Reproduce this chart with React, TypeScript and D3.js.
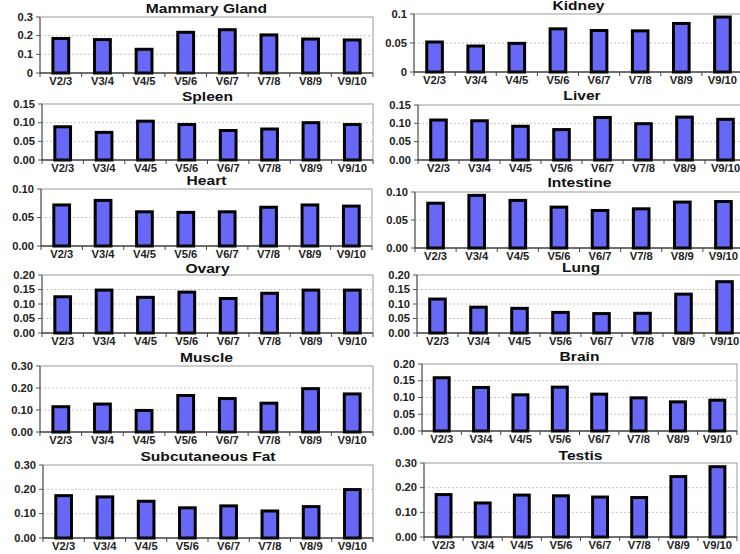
import React from "react";
import * as d3 from "d3";

const categories = ["V2/3", "V3/4", "V4/5", "V5/6", "V6/7", "V7/8", "V8/9", "V9/10"];

const mammaryGland = [0.185, 0.179, 0.127, 0.218, 0.232, 0.204, 0.182, 0.177];
const kidney = [0.0517, 0.0448, 0.0494, 0.0744, 0.0715, 0.0709, 0.0837, 0.0948];
const spleen = [0.089, 0.074, 0.104, 0.095, 0.079, 0.083, 0.1, 0.095];
const liver = [0.109, 0.107, 0.092, 0.083, 0.116, 0.099, 0.117, 0.111];
const heart = [0.072, 0.08, 0.06, 0.059, 0.06, 0.068, 0.072, 0.07];
const intestine = [0.08, 0.094, 0.085, 0.073, 0.067, 0.07, 0.082, 0.083];
const ovary = [0.125, 0.148, 0.123, 0.141, 0.119, 0.137, 0.148, 0.148];
const lung = [0.117, 0.089, 0.085, 0.071, 0.067, 0.068, 0.134, 0.177];
const muscle = [0.115, 0.127, 0.098, 0.166, 0.152, 0.131, 0.197, 0.173];
const brain = [0.159, 0.13, 0.108, 0.131, 0.11, 0.099, 0.087, 0.092];
const subcutaneousFat = [0.174, 0.169, 0.151, 0.124, 0.132, 0.111, 0.129, 0.199];
const testis = [0.172, 0.138, 0.17, 0.167, 0.162, 0.16, 0.245, 0.285];

const titles = [
  "Mammary Gland", "Kidney", "Spleen", "Liver", "Heart", "Intestine",
  "Ovary", "Lung", "Muscle", "Brain", "Subcutaneous Fat", "Testis",
];
const seriesList = [
  mammaryGland, kidney, spleen, liver, heart, intestine,
  ovary, lung, muscle, brain, subcutaneousFat, testis,
];
const tickValues = [
  [0, 0.1, 0.2, 0.3],
  [0, 0.05, 0.1],
  [0, 0.05, 0.1, 0.15],
  [0, 0.05, 0.1, 0.15],
  [0, 0.05, 0.1],
  [0, 0.05, 0.1],
  [0, 0.05, 0.1, 0.15, 0.2],
  [0, 0.05, 0.1, 0.15, 0.2],
  [0, 0.1, 0.2, 0.3],
  [0, 0.05, 0.1, 0.15, 0.2],
  [0, 0.1, 0.2, 0.3],
  [0, 0.1, 0.2, 0.3],
];
const tickLabels = [
  ["0", "0.1", "0.2", "0.3"],
  ["0", "0.05", "0.1"],
  ["0.00", "0.05", "0.10", "0.15"],
  ["0.00", "0.05", "0.10", "0.15"],
  ["0.00", "0.05", "0.10"],
  ["0.00", "0.05", "0.10"],
  ["0.00", "0.05", "0.10", "0.15", "0.20"],
  ["0.00", "0.05", "0.10", "0.15", "0.20"],
  ["0.00", "0.10", "0.20", "0.30"],
  ["0.00", "0.05", "0.10", "0.15", "0.20"],
  ["0.00", "0.10", "0.20", "0.30"],
  ["0.00", "0.10", "0.20", "0.30"],
];

// layout: [left, right, top, bottom, titleBaseline]
const layout = [
  [40, 373, 17, 73, 13],
  [414, 743, 14, 72, 10],
  [42, 373, 104, 160, 101],
  [418, 746, 105, 160, 100],
  [41, 372, 189, 246, 185],
  [415, 744, 192, 248, 187],
  [42, 373, 275, 333, 273],
  [417, 745, 275, 333, 272],
  [40, 373, 366, 432, 362],
  [422, 737, 364, 431, 361],
  [43, 373, 465, 538, 461],
  [424, 737, 463, 537, 460],
];

const FONT = "'Liberation Sans', Arial, sans-serif";
const BAR_FILL = "#6868f8";

function Panel({ idx }: { idx: number }) {
  const [left, right, top, bottom, titleY] = layout[idx];
  const values = seriesList[idx];
  const ticks = tickValues[idx];
  const labels = tickLabels[idx];
  const yMax = ticks[ticks.length - 1];
  const x = d3.scaleBand<string>().domain(categories).range([left, right]).paddingInner(0.62).paddingOuter(0.31);
  const y = d3.scaleLinear().domain([0, yMax]).range([bottom, top]);
  const step = x.step();
  return (
    <g>
      {ticks.slice(1, -1).map((t) => (
        <line key={"g" + t} x1={left} x2={right} y1={y(t)} y2={y(t)} stroke="#b8b8b8" strokeWidth={0.8} strokeDasharray="2,2" />
      ))}
      <rect x={left} y={top} width={right - left} height={bottom - top} fill="none" stroke="#9a9a9a" strokeWidth={1} />
      <line x1={left} x2={left} y1={top} y2={bottom} stroke="#555" strokeWidth={1} />
      {ticks.map((t, i) => (
        <g key={"yt" + t}>
          <line x1={left - 4} x2={left} y1={y(t)} y2={y(t)} stroke="#555" strokeWidth={1} />
          <text
            transform={`translate(${left - 7},${y(t) + 3.5}) scale(1.12,1)`}
            textAnchor="end"
            fontFamily={FONT}
            fontWeight="bold"
            fontSize={10}
            fill="#222"
          >
            {labels[i]}
          </text>
        </g>
      ))}
      {values.map((v, i) => (
        <rect
          key={"b" + i}
          x={x(categories[i])!}
          y={y(v)}
          width={x.bandwidth()}
          height={bottom - y(v)}
          fill={BAR_FILL}
          stroke="#000"
          strokeWidth={3}
        />
      ))}
      <line x1={left} x2={right} y1={bottom} y2={bottom} stroke="#111" strokeWidth={1.2} />
      {d3.range(categories.length + 1).map((k) => (
        <line key={"xt" + k} x1={left + k * step} x2={left + k * step} y1={bottom} y2={bottom + 4} stroke="#444" strokeWidth={1} />
      ))}
      {categories.map((c) => (
        <text
          key={"xl" + c}
          transform={`translate(${x(c)! + x.bandwidth() / 2},${bottom + 11.5}) scale(1.12,1)`}
          textAnchor="middle"
          fontFamily={FONT}
          fontWeight="bold"
          fontSize={10}
          fill="#222"
        >
          {c}
        </text>
      ))}
      <text
        transform={`translate(${(left + right) / 2},${titleY}) scale(1.3,1)`}
        textAnchor="middle"
        fontFamily={FONT}
        fontWeight="bold"
        fontSize={12}
        fill="#111"
      >
        {titles[idx]}
      </text>
    </g>
  );
}

export default function App() {
  return (
    <svg
      width={740}
      height={554}
      viewBox="0 0 740 554"
      style={{ position: "absolute", left: 0, top: 0, background: "#fff", overflow: "hidden" }}
    >
      <rect x={0} y={0} width={740} height={554} fill="#fff" />
      {titles.map((_, i) => (
        <Panel key={i} idx={i} />
      ))}
    </svg>
  );
}
